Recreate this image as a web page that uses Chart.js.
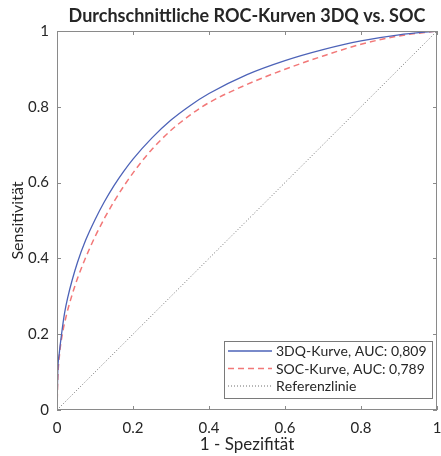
<!DOCTYPE html>
<html>
<head>
<meta charset="utf-8">
<script src="https://cdn.jsdelivr.net/npm/chart.js@4/dist/chart.umd.min.js"></script>
<style>
  html, body { margin: 0; padding: 0; background: #fff; }
  #wrap { width: 441px; height: 456px; }
</style>
</head>
<body>
<div id="wrap"><canvas id="roc"></canvas></div>
<script>
// ROC curve points (1 - specificity, sensitivity)
const fprBlue = [0, 0.002, 0.006, 0.012, 0.02, 0.029, 0.04, 0.054, 0.075, 0.1, 0.125, 0.15, 0.175, 0.2, 0.25, 0.3, 0.35, 0.4, 0.5, 0.6, 0.7, 0.8, 0.9, 1];
const tprBlue = [0, 0.1, 0.15, 0.2, 0.256, 0.3, 0.343, 0.39, 0.447, 0.502, 0.55, 0.592, 0.629, 0.662, 0.718, 0.765, 0.803, 0.835, 0.885, 0.922, 0.951, 0.974, 0.99, 1];
const fprRed = [0, 0.002, 0.007, 0.014, 0.025, 0.04, 0.055, 0.072, 0.1, 0.126, 0.15, 0.178, 0.21, 0.25, 0.3, 0.35, 0.4, 0.5, 0.6, 0.7, 0.8, 0.9, 1];
const tprRed = [0, 0.08, 0.15, 0.2, 0.251, 0.305, 0.35, 0.394, 0.457, 0.508, 0.55, 0.594, 0.639, 0.688, 0.738, 0.778, 0.811, 0.859, 0.899, 0.934, 0.965, 0.987, 1];
const refLine = [0, 1];

const labels = ['3DQ-Kurve, AUC: 0,809', 'SOC-Kurve, AUC: 0,789', 'Referenzlinie'];
const tickValues = [0, 0.2, 0.4, 0.6, 0.8, 1];

const fontFamily = 'Lato, "Open Sans", sans-serif';
const textColor = '#262626';
const axisColor = '#8a8a8a';

function toPoints(xs, ys) {
    return xs.map((x, i) => ({ x: x, y: ys[i] }));
}

function fmtTick(v) {
    if (v === 0 || v === 1) return String(v);
    return v.toFixed(1);
}

// the reference legend font is wider than Lato, so spread the letters to a given width
function drawSpaced(ctx, text, x, y, width) {
    const chars = Array.from(text);
    const widths = chars.map(c => ctx.measureText(c).width);
    const total = widths.reduce((a, b) => a + b, 0);
    const extra = chars.length > 1 ? Math.max(0, (width - total) / (chars.length - 1)) : 0;
    let cx = x;
    chars.forEach((c, i) => {
        ctx.fillText(c, cx, y);
        cx += widths[i] + extra;
    });
}

// title is centred over the plot area, not the whole canvas
const titlePlugin = {
    id: 'titlePlugin',
    afterLayout(chart) {
        if (chart.titleBlock) {
            chart.titleBlock.left = chart.chartArea.left;
            chart.titleBlock.right = chart.chartArea.right;
            chart.titleBlock.width = chart.chartArea.right - chart.chartArea.left;
        }
    }
};

// draws inward ticks on all four sides, the box, and the legend inside the plot
const boxPlugin = {
    id: 'boxPlugin',
    afterDraw(chart) {
        const ctx = chart.ctx;
        const a = chart.chartArea;
        const xs = chart.scales.x;
        const ys = chart.scales.y;
        ctx.save();
        ctx.strokeStyle = axisColor;
        ctx.lineWidth = 1;
        ctx.strokeRect(a.left + 0.5, a.top + 0.5, a.right - a.left - 1, a.bottom - a.top - 1);
        const len = 4;
        ctx.beginPath();
        tickValues.forEach(v => {
            const px = Math.round(xs.getPixelForValue(v)) + 0.5;
            ctx.moveTo(px, a.bottom); ctx.lineTo(px, a.bottom - len);
            ctx.moveTo(px, a.top); ctx.lineTo(px, a.top + len);
            const py = Math.round(ys.getPixelForValue(v)) + 0.5;
            ctx.moveTo(a.left, py); ctx.lineTo(a.left + len, py);
            ctx.moveTo(a.right, py); ctx.lineTo(a.right - len, py);
        });
        ctx.stroke();

        // legend
        const lx = 224, ly = 341, lw = 208, lh = 57;
        const textWidths = [146, 143, 79];
        ctx.fillStyle = '#fff';
        ctx.fillRect(lx, ly, lw, lh);
        ctx.strokeStyle = '#7a7a7a';
        ctx.strokeRect(lx + 0.5, ly + 0.5, lw, lh);
        ctx.font = '14px ' + fontFamily;
        ctx.textBaseline = 'middle';
        ctx.textAlign = 'left';
        chart.data.datasets.forEach((ds, i) => {
            const y = ly + 10 + i * 17.5;
            ctx.beginPath();
            ctx.strokeStyle = ds.borderColor;
            ctx.lineWidth = ds.borderWidth;
            ctx.setLineDash(ds.borderDash || []);
            ctx.moveTo(lx + 4, y);
            ctx.lineTo(lx + 48, y);
            ctx.stroke();
            ctx.setLineDash([]);
            ctx.fillStyle = textColor;
            drawSpaced(ctx, ds.label, lx + 52, y + 0.5, textWidths[i]);
        });
        ctx.restore();
    }
};

const chart = new Chart(document.getElementById('roc'), {
    type: 'line',
    data: {
        datasets: [
            {
                label: labels[0],
                data: toPoints(fprBlue, tprBlue),
                borderColor: '#4d63b8',
                borderWidth: 1.3,
                pointRadius: 0,
                cubicInterpolationMode: 'monotone',
                fill: false
            },
            {
                label: labels[1],
                data: toPoints(fprRed, tprRed),
                borderColor: '#f27878',
                borderWidth: 1.5,
                borderDash: [6, 4],
                pointRadius: 0,
                cubicInterpolationMode: 'monotone',
                fill: false
            },
            {
                label: labels[2],
                data: toPoints(refLine, refLine),
                borderColor: '#6e6e6e',
                borderWidth: 1,
                borderDash: [1, 2],
                pointRadius: 0,
                fill: false
            }
        ]
    },
    options: {
        responsive: true,
        maintainAspectRatio: false,
        animation: false,
        layout: { padding: { top: 0, right: 4, left: 0, bottom: 0 } },
        plugins: {
            legend: { display: false },
            tooltip: { enabled: false },
            title: {
                display: true,
                text: 'Durchschnittliche ROC-Kurven 3DQ vs. SOC',
                color: textColor,
                font: { family: fontFamily, size: 18, weight: 'bold', lineHeight: 1.2 },
                padding: { top: 5, bottom: 4.4 }
            }
        },
        scales: {
            x: {
                type: 'linear',
                min: 0,
                max: 1,
                afterFit(scale) {
                    scale.height = 46;
                    scale.paddingLeft = 0;
                    scale.paddingRight = 0;
                },
                afterBuildTicks(scale) { scale.ticks = tickValues.map(v => ({ value: v })); },
                grid: { display: false, drawTicks: false },
                border: { display: false },
                ticks: {
                    color: textColor,
                    font: { family: fontFamily, size: 15 },
                    padding: 9,
                    maxRotation: 0,
                    callback: v => fmtTick(v)
                },
                title: {
                    display: true,
                    text: '1 - Spezifität',
                    color: textColor,
                    font: { family: fontFamily, size: 17 },
                    padding: { top: 0, bottom: 1 }
                }
            },
            y: {
                type: 'linear',
                min: 0,
                max: 1,
                afterFit(scale) { scale.width = 57; },
                afterBuildTicks(scale) { scale.ticks = tickValues.map(v => ({ value: v })); },
                grid: { display: false, drawTicks: false },
                border: { display: false },
                ticks: {
                    color: textColor,
                    font: { family: fontFamily, size: 15 },
                    padding: 8,
                    callback: v => fmtTick(v)
                },
                title: {
                    display: true,
                    text: 'Sensitivität',
                    color: textColor,
                    font: { family: fontFamily, size: 16 },
                    padding: { top: 8, bottom: 0 }
                }
            }
        }
    },
    plugins: [titlePlugin, boxPlugin]
});
</script>
</body>
</html>
